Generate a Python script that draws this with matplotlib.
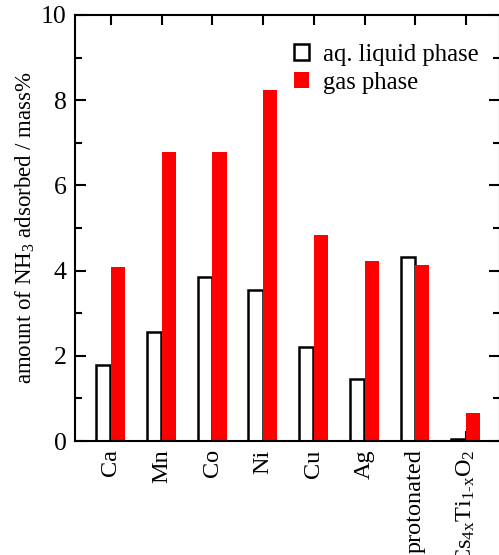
import matplotlib
matplotlib.use("Agg")
import matplotlib.pyplot as plt
from matplotlib.ticker import MultipleLocator
import numpy as np

plt.rcParams['font.family'] = ['Liberation Serif', 'DejaVu Serif']
plt.rcParams['mathtext.fontset'] = 'custom'
plt.rcParams['mathtext.rm'] = 'Liberation Serif'
plt.rcParams['mathtext.it'] = 'Liberation Serif:italic'

# --- data ---
categories = ['Ca', 'Mn', 'Co', 'Ni', 'Cu', 'Ag', 'protonated',
              r'Cs$_{\mathrm{4x}}$Ti$_{\mathrm{1\text{-}x}}$O$_2$']
liquid = [1.78, 2.57, 3.85, 3.54, 2.20, 1.46, 4.31, 0.05]
gas = [4.08, 6.79, 6.79, 8.25, 4.84, 4.23, 4.13, 0.65]

x = np.arange(1, len(categories) + 1)
w = 0.28

fig = plt.figure(figsize=(4.99, 5.55), dpi=100)
ax = fig.add_axes([0.150, 0.2054, 0.852, 0.7676])

ax.bar(x - 0.15, liquid, width=w, facecolor='white', edgecolor='black',
       linewidth=1.8, label='aq. liquid phase', zorder=2)
ax.bar(x + 0.14, gas, width=w, color='#ff0000', linewidth=0,
       label='gas phase', zorder=2)

ax.set_xlim(0.29, 8.67)
ax.set_ylim(0, 10)
ax.set_xticks(x)
ax.set_xticklabels(categories, rotation=90, fontsize=17.5)
ax.yaxis.set_major_locator(MultipleLocator(2))
ax.yaxis.set_minor_locator(MultipleLocator(1))
ax.tick_params(axis='y', which='major', direction='in', length=8, width=1.5,
               labelsize=18.5, right=True, pad=6)
ax.tick_params(axis='y', which='minor', direction='in', length=5, width=1.5,
               right=True)
ax.tick_params(axis='x', direction='in', length=7, width=1.5, top=True,
               bottom=True, pad=6)
for s in ax.spines.values():
    s.set_linewidth(1.5)

ax.set_ylabel(r'amount of NH$_3$ adsorbed / mass%', fontsize=16.5, labelpad=3)

ax.legend(loc='upper left', bbox_to_anchor=(0.515, 0.933), frameon=False,
          fontsize=17.7, handlelength=0.6, handleheight=0.6, handletextpad=0.6,
          borderpad=0, borderaxespad=0, labelspacing=0.25)

fig.savefig('out.png', dpi=100)
